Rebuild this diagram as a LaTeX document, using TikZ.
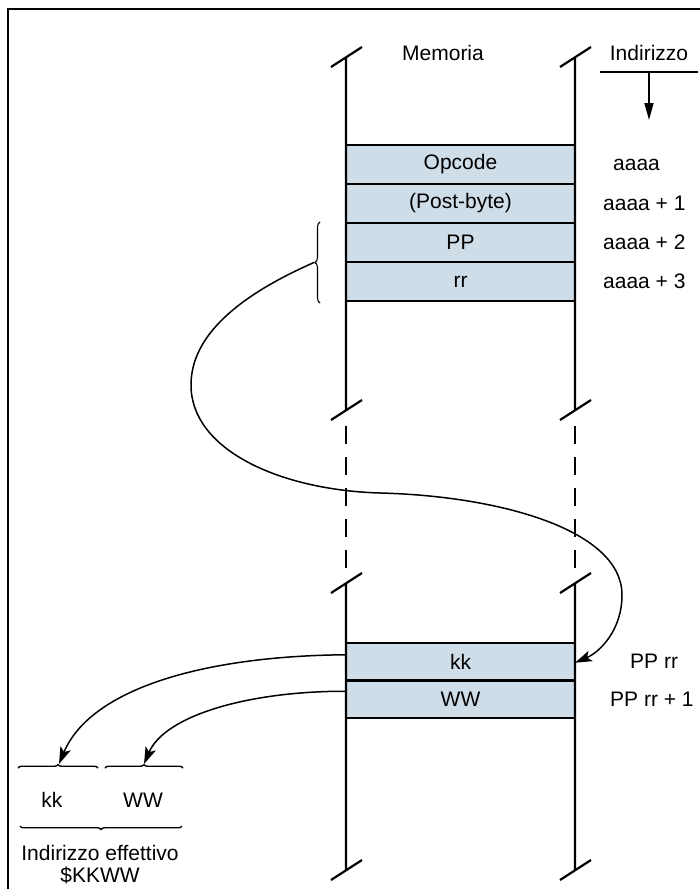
\documentclass[tikz,border=0pt]{standalone}
\usepackage{fontspec}
\setmainfont{Liberation Sans}
\usepackage{tikz}
\usetikzlibrary{arrows.meta,positioning,decorations.pathreplacing}
\definecolor{cellblue}{RGB}{207,221,233}

\begin{document}
\begin{tikzpicture}[
  x=1pt, y=-1pt,
  every node/.style={font=\fontsize{21}{23}\selectfont},
  cell/.style={draw, fill=cellblue, line width=2.2pt, minimum width=229pt,
               minimum height=39pt, inner sep=0pt, outer sep=0pt},
  addr/.style={inner sep=0pt},
  col/.style={line width=2.2pt},
  gap/.style={line width=2.2pt, dash pattern=on 18pt off 13pt},
  link/.style={line width=1.5pt, -{Stealth[length=17pt,width=11pt,inset=4pt]}},
  brc/.style={line width=1.4pt, decorate, decoration={brace, amplitude=#1}},
  brc/.default=3.5pt
]
\useasboundingbox (0,0) rectangle (700,889);
\draw[line width=1.5pt] (8,889) -- (8,9) -- (700,9);

% memory cells
\node[cell]                                    (opcode) at (460.5,164.5) {Opcode};
\node[cell, below=0pt of opcode]               (post)   {(Post-byte)};
\node[cell, below=0pt of post]                 (pp)     {PP};
\node[cell, below=0pt of pp]                   (rr)     {rr};
\node[cell, minimum height=37.5pt]             (kk)     at (460.5,661.75) {kk};
\node[cell, minimum height=37.5pt, below=0pt of kk] (ww) {WW};

% columns with break marks
\foreach \x in {346,575} {
  \draw[col] (\x,410) -- (\x,57) ++(-15,10) -- ++(31,-20);
  \draw[col] (\x,410) ++(-15,10) -- ++(31,-20);
  \draw[gap] (\x,426) -- (\x,568);
  \draw[col] (\x,870) -- (\x,583) ++(-15,10) -- ++(31,-20);
  \draw[col] (\x,870) ++(-15,10) -- ++(31,-20);
}

\node (mem) at (443,53) {Memoria};
\node[minimum width=98pt, minimum height=38pt, inner sep=0pt] (addrhead) at (649,53) {Indirizzo};
\coordinate (down) at (649,120);
\draw[line width=1.5pt] (addrhead.south west) -- (addrhead.south east);
\draw[line width=1.5pt, -{Triangle[length=17pt,width=9pt]}] (addrhead.south) -- (down);

% addresses
\node[addr, right=38pt of opcode] (a0) {aaaa};
\node[addr, right=28pt of post]   (a1) {aaaa + 1};
\node[addr, right=28pt of pp]     (a2) {aaaa + 2};
\node[addr, right=28pt of rr]     (a3) {aaaa + 3};
\node[addr, right=55pt of kk]     (p0) {PP rr};
\node[addr, right=35pt of ww]     (p1) {PP rr + 1};

% pointer PP rr
\draw[brc=5pt, line width=1.1pt] (320,303) -- (320,222);
\coordinate (ptr) at (314,262.5);
\draw[link] (ptr) .. controls (240,295) and (191,335) .. (191,385)
  .. controls (191,450) and (280,490) .. (380,493)
  .. controls (500,496) and (622,530) .. (622,595)
  .. controls (622,630) and (600,652) .. ([yshift=-1pt]kk.east);

% effective address
\draw[brc] (18,768) -- (98,768);
\draw[brc] (105,768) -- (183,768);
\coordinate (kktip) at (59,764);
\coordinate (wwtip) at (144,764);
\node (kklbl) at (52,800) {kk};
\node (wwlbl) at (143,800) {WW};
\draw[brc] (182,826) -- (20,826);
\node[align=center, font=\fontsize{21}{22}\selectfont] (eff) at (100,865) {Indirizzo effettivo\\\$KKWW};

\draw[link] ([yshift=7pt]kk.west) .. controls (200,656) and (90,690) .. (kktip);
\draw[link] ([yshift=8pt]ww.west) .. controls (250,691) and (165,715) .. (wwtip);
\end{tikzpicture}
\end{document}
